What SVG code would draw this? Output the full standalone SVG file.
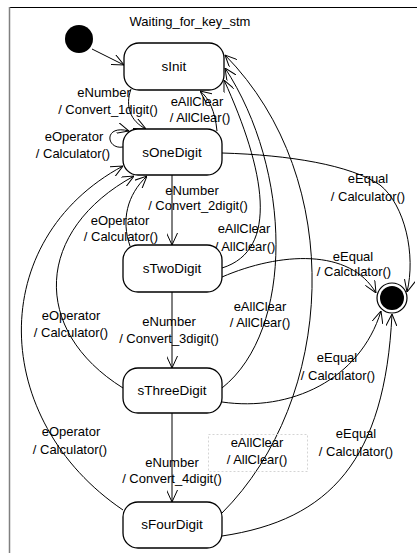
<svg xmlns="http://www.w3.org/2000/svg" width="417" height="553" viewBox="0 0 417 553">
  <style>
    text { font-family: "Liberation Sans", Arial, sans-serif; font-size: 13px; fill: #000; }
    .lbl { text-anchor: middle; }
    .state rect { fill: #fff; stroke: #000; stroke-width: 1.3; }
    .state text { text-anchor: middle; font-size: 13.5px; }
    .conn path { fill: none; stroke: #000; stroke-width: 1; marker-end: url(#open); }
  </style>
  <defs>
    <marker id="open" viewBox="0 0 12 11" refX="12" refY="5.5" markerWidth="12" markerHeight="11" markerUnits="userSpaceOnUse" orient="auto">
      <path d="M0,0 L12,5.5 L0,11" fill="none" stroke="#000" stroke-width="1"/>
    </marker>
  </defs>

  <rect width="417" height="553" fill="#fff"/>

  <!-- state machine frame -->
  <g id="frame">
    <line x1="9" y1="7.5" x2="417" y2="7.5" stroke="#000" stroke-width="1.2"/>
    <line x1="9.5" y1="7" x2="9.5" y2="553" stroke="#808080" stroke-width="1.5"/>
    <text x="190" y="26" class="lbl">Waiting_for_key_stm</text>
  </g>

  <!-- transitions -->
  <g id="connectors" class="conn">
    <path d="M92,49 L124,65"/>
    <!-- sInit -> sOneDigit -->
    <path d="M131,89 C125,106 130,121 146,129"/>
    <!-- sOneDigit self loop -->
    <path d="M123,147 C106,150 103,124 129,131"/>
    <!-- sOneDigit -> sInit -->
    <path d="M217,131 C215,111 209,98 200,91"/>
    <!-- straight chain -->
    <path d="M172,175 L172,245"/>
    <path d="M172,292 L172,368"/>
    <path d="M172,413 L172,502"/>
    <!-- sTwoDigit -> sOneDigit -->
    <path d="M130,246 C121,220 127,195 147,176"/>
    <!-- back to sInit -->
    <path d="M222,268 C280,250 265,170 224,80"/>
    <path d="M222,388 C295,330 292,170 225,68"/>
    <path d="M222,513 C335,400 348,180 225,55"/>
    <!-- to final state -->
    <path d="M222,153 C290,155 350,165 380,185 C405,205 416,255 407,292"/>
    <path d="M222,277 C280,252 350,248 376,293"/>
    <path d="M222,402 C290,412 360,380 381,311"/>
    <path d="M222,536 C330,520 385,460 392,314"/>
    <!-- eOperator back to sOneDigit -->
    <path d="M123,388 C30,330 35,230 134,176"/>
    <path d="M123,510 C-10,420 -15,240 123,166"/>
  </g>

  <!-- transition labels -->
  <g id="labels">
    <text x="104" y="97" class="lbl">eNumber</text>
    <text x="108" y="114" class="lbl">/ Convert_1digit()</text>
    <text x="197" y="106" class="lbl">eAllClear</text>
    <text x="200" y="122" class="lbl">/ AllClear()</text>
    <text x="74" y="141" class="lbl">eOperator</text>
    <text x="73" y="158" class="lbl">/ Calculator()</text>
    <text x="192" y="195" class="lbl">eNumber</text>
    <text x="198" y="210" class="lbl">/ Convert_2digit()</text>
    <text x="120" y="225" class="lbl">eOperator</text>
    <text x="121" y="241" class="lbl">/ Calculator()</text>
    <text x="368" y="183" class="lbl">eEqual</text>
    <text x="368" y="201" class="lbl">/ Calculator()</text>
    <text x="244" y="233" class="lbl">eAllClear</text>
    <text x="245" y="251" class="lbl">/ AllClear()</text>
    <text x="353" y="261" class="lbl">eEqual</text>
    <text x="354" y="276" class="lbl">/ Calculator()</text>
    <text x="71" y="320" class="lbl">eOperator</text>
    <text x="71" y="337" class="lbl">/ Calculator()</text>
    <text x="169" y="326" class="lbl">eNumber</text>
    <text x="169" y="343" class="lbl">/ Convert_3digit()</text>
    <text x="260" y="311" class="lbl">eAllClear</text>
    <text x="260" y="327" class="lbl">/ AllClear()</text>
    <text x="337" y="362" class="lbl">eEqual</text>
    <text x="338" y="380" class="lbl">/ Calculator()</text>
    <text x="71" y="436" class="lbl">eOperator</text>
    <text x="70" y="454" class="lbl">/ Calculator()</text>
    <text x="172" y="467" class="lbl">eNumber</text>
    <text x="172" y="483" class="lbl">/ Convert_4digit()</text>
    <rect x="208.5" y="434.5" width="99" height="37" fill="none" stroke="#d4d4d4" stroke-width="1" stroke-dasharray="2,2"/>
    <text x="257" y="447" class="lbl">eAllClear</text>
    <text x="257" y="464" class="lbl">/ AllClear()</text>
    <text x="356" y="438" class="lbl">eEqual</text>
    <text x="356" y="456" class="lbl">/ Calculator()</text>
  </g>

  <!-- pseudo states -->
  <g id="initial">
    <circle cx="79" cy="39" r="14" fill="#000"/>
  </g>
  <g id="final">
    <circle cx="392" cy="298" r="15" fill="#fff" stroke="#000" stroke-width="1.2"/>
    <circle cx="392" cy="298" r="12" fill="#000"/>
  </g>

  <!-- states -->
  <g id="sInit" class="state">
    <rect x="124" y="43" width="100" height="47" rx="15"/>
    <text x="174" y="71">sInit</text>
  </g>
  <g id="sOneDigit" class="state">
    <rect x="123" y="129" width="99" height="46" rx="15"/>
    <text x="172" y="157">sOneDigit</text>
  </g>
  <g id="sTwoDigit" class="state">
    <rect x="123" y="245" width="99" height="47" rx="15"/>
    <text x="172" y="273">sTwoDigit</text>
  </g>
  <g id="sThreeDigit" class="state">
    <rect x="123" y="368" width="99" height="45" rx="15"/>
    <text x="172" y="395">sThreeDigit</text>
  </g>
  <g id="sFourDigit" class="state">
    <rect x="123" y="502" width="99" height="46" rx="15"/>
    <text x="172" y="529">sFourDigit</text>
  </g>
</svg>
